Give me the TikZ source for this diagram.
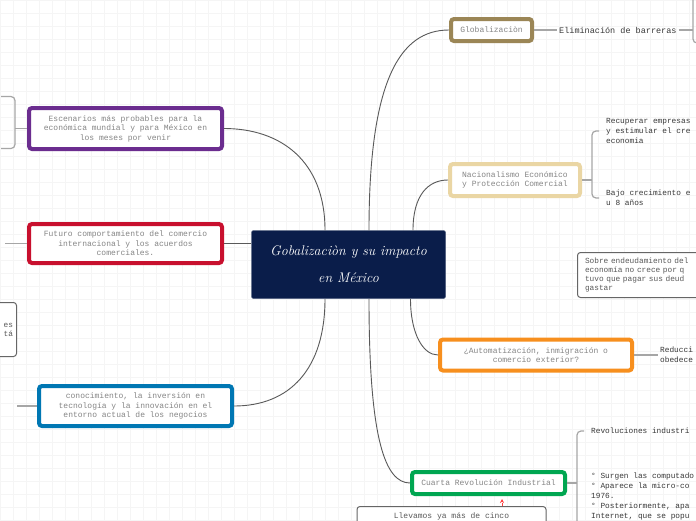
\documentclass[tikz,border=0pt]{standalone}
\usepackage{fontspec}
\setmonofont{Liberation Mono}
\usepackage{xcolor}
\usepackage{tikz}
\usetikzlibrary{arrows.meta,positioning,calc,shadows}
\definecolor{navy}{RGB}{10,29,74}
\definecolor{goldc}{RGB}{155,134,86}
\definecolor{tanc}{RGB}{234,214,164}
\definecolor{purplec}{RGB}{107,45,143}
\definecolor{redc}{RGB}{200,16,46}
\definecolor{bluec}{RGB}{0,119,179}
\definecolor{orangec}{RGB}{247,143,30}
\definecolor{greenc}{RGB}{0,166,81}

\begin{document}
\begin{tikzpicture}[x=1pt,y=-1pt,
  gridline/.style={black!4,line width=0.6pt},
  link/.style={draw=black!65,line width=0.9pt},
  sublink/.style={draw=black!35,line width=1.2pt},
  centre/.style={fill=navy,draw=navy!70!white,line width=0.5pt,rounded corners=2pt,
    text=white,align=center,font=\itshape\fontsize{14}{27}\selectfont},
  branch/.style={line width=4pt,fill=white,rounded corners=3pt,align=center,
    font=\ttfamily\fontsize{8}{9.5}\selectfont,text=black!48,inner sep=2pt,
    drop shadow={shadow xshift=0.6pt,shadow yshift=-1pt,opacity=.25}},
  subtext/.style={font=\ttfamily\fontsize{8.5}{9.8}\selectfont,text=black!78,align=left,inner sep=2pt},
  edgetext/.style={subtext,font=\ttfamily\fontsize{7.8}{9.8}\selectfont},
  note/.style={draw=black!60,line width=1pt,fill=white,rounded corners=3pt,
    font=\ttfamily\fontsize{7.8}{9}\selectfont,text=black!65},
  redarrow/.style={draw=red!75,dashed,line width=0.6pt,-{Stealth[length=4pt,width=4pt]}}
]
% page and grid
\useasboundingbox (0,0) rectangle (696,520);
\fill[white] (0,0) rectangle (696,520);
\foreach \gx in {0,13,...,696}{
  \draw[gridline] (\gx,0) -- (\gx,520);
}
\foreach \gy in {0,13,...,520}{
  \draw[gridline] (0,\gy) -- (696,\gy);
}

% centre
\node[centre,minimum width=194pt,minimum height=68pt] (ctr) at (348.5,264.5)
  {Gobalizaciòn y su impacto\\en México};

% Globalizacion
\node[branch,draw=goldc,minimum width=81pt,minimum height=22pt] (glob) at (491.5,30) {Globalizaciòn};
\node[subtext,anchor=west] (elim) at (557,30) {Eliminación de barreras};
\coordinate (globB) at (693,30);
\draw[sublink] (glob) -- (elim);
\draw[sublink] (elim) -- (globB);
\draw[sublink,rounded corners=4pt] ($(globB)+(0,-40)$) -- ($(globB)+(0,13)$) -- ($(globB)+(8,13)$);

% Nacionalismo
\node[branch,draw=tanc,minimum width=130pt,minimum height=32pt] (nac) at (515,180)
  {Nacionalismo Económico\\ y Protección Comercial};
\coordinate (nacB) at (592,180);
\node[edgetext,anchor=west] (recup) at (604,131) {Recuperar empresas\\y estimular el cre\\economia};
\node[edgetext,anchor=west] (bajo) at (604,198) {Bajo crecimiento e\\u 8 años};
\draw[sublink] (nac) -- (nacB);
\draw[sublink,rounded corners=4pt] ($(recup.west)+(-5,0)$) -- (nacB |- recup.west)
  -- (nacB |- bajo.west) -- ($(bajo.west)+(-5,0)$);

% deuda
\node[note,anchor=north west,minimum width=140pt,minimum height=45pt,text width=125pt,
  align=left,inner xsep=6pt] (sobre) at (577,252)
  {Sobre endeudamiento del\\economía no crece por q\\tuvo que pagar sus deud\\gastar};

% Automatizacion
\node[branch,draw=orangec,minimum width=192pt,minimum height=31pt] (auto) at (536,355)
  {¿Automatización, inmigración o\\comercio exterior?};
\node[edgetext,anchor=west] (reduc) at (658,355) {Reducci\\obedece};
\draw[sublink] (auto) -- (reduc);

% Cuarta revolucion
\node[branch,draw=greenc,minimum width=153pt,minimum height=22pt] (cuarta) at (488.5,483)
  {Cuarta Revolución Industrial};
\coordinate (cuaB) at (577,483);
\node[edgetext,anchor=west] (revol) at (589,431) {Revoluciones industri};
\node[edgetext,anchor=north west] (surgen) at (589,471)
  {° Surgen las computado\\° Aparece la micro-co\\1976.\\° Posteriormente, apa\\Internet, que se popu};
\draw[sublink] (cuarta) -- (cuaB);
\draw[sublink,rounded corners=4pt] ($(revol.west)+(-5,0)$) -- (cuaB |- revol.west) -- ($(cuaB)+(0,45)$);

% llevamos
\node[note,anchor=north,minimum width=189pt,text height=6pt,text depth=20pt,inner ysep=6pt,
  font=\ttfamily\fontsize{8}{9}\selectfont] (llev) at (451.5,506) {Llevamos ya más de cinco};
\draw[redarrow,shorten >=3pt] ([xshift=50.5pt]llev.north) -- ([xshift=13.5pt]cuarta.south);

% Escenarios
\node[branch,draw=purplec,minimum width=193pt,minimum height=41pt] (esce) at (125.5,128.5)
  {Escenarios más probables para la\\económica mundial y para México en\\los meses por venir};
\coordinate (esceB) at (15,128.5);
\draw[sublink] (esce) -- (esceB);
\draw[sublink,rounded corners=4pt] ($(esceB)+(-14,-32)$) -- ($(esceB)+(0,-32)$)
  -- ($(esceB)+(0,20)$) -- ($(esceB)+(-14,20)$);

% Futuro
\node[branch,draw=redc,minimum width=193pt,minimum height=39pt] (fut) at (125.5,243.5)
  {Futuro comportamiento del comercio\\internacional y los acuerdos\\comerciales.};
\coordinate (futB) at (5,243.5);
\draw[sublink] (fut) -- (futB);

% recorte izquierdo
\node[note,anchor=north east,minimum width=60pt,minimum height=54pt,text width=53pt,
  align=right,inner xsep=3pt] (cutnote) at (17,302) {es\\tá};

% conocimiento
\node[branch,draw=bluec,minimum width=193pt,minimum height=40pt] (cono) at (135.5,406)
  {conocimiento, la inversión en\\tecnología y la innovación en el\\entorno actual de los negocios};
\coordinate (conoB) at (17,406);
\draw[sublink] (cono) -- (conoB);

% branches from centre
\draw[link] ([xshift=-23.5pt]ctr.north) .. controls +(0,-70) and +(56,0) .. (esce.east);
\draw[link] ([xshift=20.5pt]ctr.north) .. controls +(0,-150) and +(-49,0) .. (glob.west);
\draw[link] ([xshift=64.5pt]ctr.north) .. controls +(0,-35) and +(-20,0) .. (nac.west);
\draw[link] (fut.east) -- (fut.east -| ctr.west);
\draw[link] ([xshift=-23.5pt]ctr.south) .. controls +(0,70) and +(56,0) .. (cono.east);
\draw[link] ([xshift=20.5pt]ctr.south) .. controls +(0,140) and +(-25,0) .. (cuarta.west);
\draw[link] ([xshift=62pt]ctr.south) .. controls +(0,35) and +(-15,0) .. (auto.west);
\end{tikzpicture}
\end{document}
